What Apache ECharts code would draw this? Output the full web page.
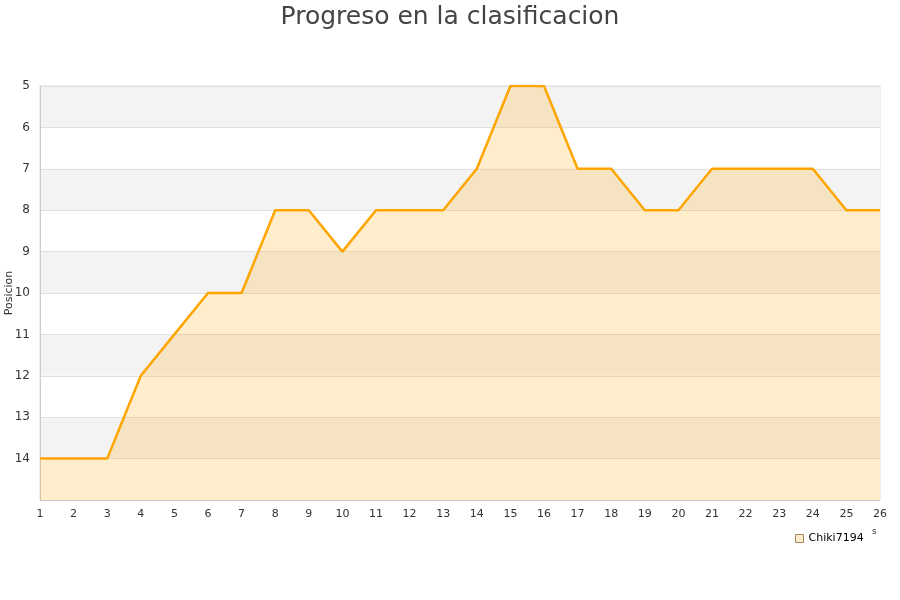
<!DOCTYPE html>
<html><head><meta charset="utf-8">
<script src="https://cdn.jsdelivr.net/npm/echarts@6/dist/echarts.min.js"></script>
<style>html,body{margin:0;padding:0;background:#fff}#c{width:900px;height:600px}</style>
</head><body><div id="c"></div>
<script>
const jornadas = ['1','2','3','4','5','6','7','8','9','10','11','12','13','14','15','16','17','18','19','20','21','22','23','24','25','26'];
const posiciones = [14,14,14,12,11,10,10,8,8,9,8,8,8,7,5,5,7,7,8,8,7,7,7,7,8,8];
const seriesName = 'Chiki7194';
const titleText = 'Progreso en la clasificacion';
const yName = 'Posicion';

const chart = echarts.init(document.getElementById('c'));
chart.setOption({
  animation: false,
  title: {text: titleText, left: 'center', top: 0,
    textStyle: {fontFamily: 'DejaVu Sans', fontSize: 25, fontWeight: 'normal', color: '#444'}},
  grid: {left: 40, right: 20, top: 86, bottom: 100, containLabel: false, outerBoundsMode: 'none',
    show: true, borderColor: '#ddd', borderWidth: 1},
  legend: {data: [seriesName], left: 790, top: 528, icon: 'rect', itemWidth: 8, itemHeight: 8, itemGap: 8,
    textStyle: {fontFamily: 'DejaVu Sans', fontSize: 11, color: '#000'},
    itemStyle: {color: '#ffebcb', borderColor: '#a08860', borderWidth: 1}},
  xAxis: {type: 'category', data: jornadas, boundaryGap: false,
    axisLine: {show: true, lineStyle: {color: '#ccc'}}, axisTick: {show: false},
    axisLabel: {color: '#333', fontFamily: 'DejaVu Sans', fontSize: 11, margin: 9, interval: 0}},
  yAxis: {type: 'value', inverse: true, min: 5, max: 15, interval: 1,
    name: yName, nameLocation: 'middle', nameGap: 25, nameMoveOverlap: false,
    nameTextStyle: {color: '#333', fontFamily: 'DejaVu Sans', fontSize: 11},
    axisLine: {show: true, lineStyle: {color: '#ccc'}}, axisTick: {show: false},
    axisLabel: {color: '#333', fontFamily: 'DejaVu Sans', fontSize: 12, margin: 10,
      formatter: v => v === 15 ? '' : String(v)},
    splitLine: {show: true, lineStyle: {color: '#e0e0e0'}},
    splitArea: {show: true, areaStyle: {color: ['#f3f3f3', '#ffffff']}}},
  series: [{name: seriesName, type: 'line', data: posiciones, showSymbol: false, symbol: 'none',
    lineStyle: {color: '#ffa500', width: 2.5}, itemStyle: {color: '#ffebcb'},
    areaStyle: {color: 'rgba(255,165,0,0.2)', opacity: 1, origin: 'end'}}],
  graphic: [{type: 'text', left: 872, top: 527, style: {text: 's', fontSize: 9, fill: '#333', fontFamily: 'DejaVu Sans'}}]
});
</script></body></html>
